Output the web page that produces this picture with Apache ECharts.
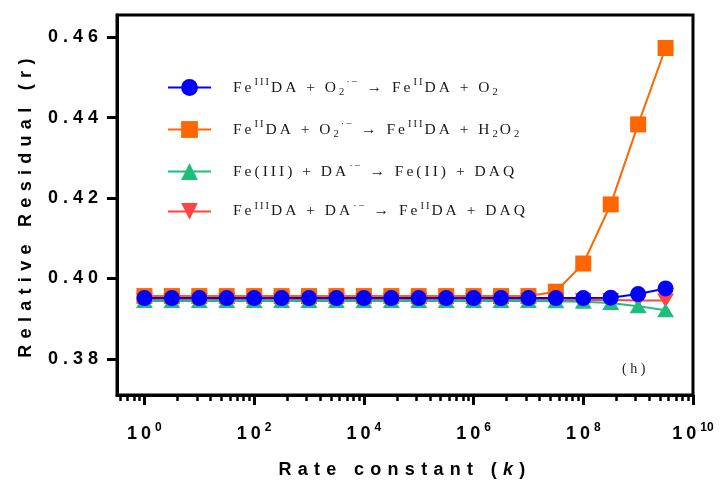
<!DOCTYPE html>
<html>
<head>
<meta charset="utf-8">
<script src="https://cdn.jsdelivr.net/npm/echarts@6/dist/echarts.min.js"></script>
<style>html,body{margin:0;padding:0;background:#fff}#c{width:720px;height:491px}</style>
</head>
<body>
<div id="c"></div>
<script>
// x values are log10(k)
var logK = [0, 0.5, 1, 1.5, 2, 2.5, 3, 3.5, 4, 4.5, 5, 5.5, 6, 6.5, 7, 7.5, 8, 8.5, 9, 9.5];
var feIIIDA_O2 = [0.3951, 0.3951, 0.3951, 0.3951, 0.3951, 0.3951, 0.3951, 0.3951, 0.3951, 0.3951, 0.3951, 0.3951, 0.3951, 0.3951, 0.3951, 0.3951, 0.3951, 0.3952, 0.3961, 0.3975];
var feIIDA_O2 = [0.3956, 0.3956, 0.3956, 0.3956, 0.3956, 0.3956, 0.3956, 0.3956, 0.3956, 0.3956, 0.3956, 0.3956, 0.3956, 0.3956, 0.3956, 0.3967, 0.4037, 0.4184, 0.4383, 0.4573];
var feIII_DA = [0.3944, 0.3944, 0.3944, 0.3944, 0.3944, 0.3944, 0.3944, 0.3944, 0.3944, 0.3944, 0.3944, 0.3944, 0.3944, 0.3944, 0.3944, 0.3943, 0.3942, 0.3939, 0.3931, 0.3921];
var feIIIDA_DA = [0.3946, 0.3946, 0.3946, 0.3946, 0.3946, 0.3946, 0.3946, 0.3946, 0.3946, 0.3946, 0.3946, 0.3946, 0.3946, 0.3946, 0.3946, 0.3946, 0.3946, 0.3946, 0.3945, 0.3945];
var xMajorTicks = [0, 2, 4, 6, 8, 10];
var yTicks = [0.38, 0.40, 0.42, 0.44, 0.46];
var seriesNames = ['FeIIIDA + O2 → FeIIDA + O2', 'FeIIDA + O2 → FeIIIDA + H2O2', 'Fe(III) + DA → Fe(II) + DAQ', 'FeIIIDA + DA → FeIIDA + DAQ'];

function sp(str, cls) {
  return str.split('').map(function (ch) { return '{' + cls + '|' + ch + '}'; }).join('');
}
var legendText = {};
legendText[seriesNames[0]] = '{g|}' + sp('Fe', 't') + sp('III', 'sup') + sp('DA + O', 't') + sp('2', 'sub') + sp('·−', 'sup') + sp(' → Fe', 't') + sp('II', 'sup') + sp('DA + O', 't') + sp('2', 'sub');
legendText[seriesNames[1]] = '{g|}' + sp('Fe', 't') + sp('II', 'sup') + sp('DA + O', 't') + sp('2', 'sub') + sp('·−', 'sup') + sp(' → Fe', 't') + sp('III', 'sup') + sp('DA + H', 't') + sp('2', 'sub') + sp('O', 't') + sp('2', 'sub');
legendText[seriesNames[2]] = '{g|}' + sp('Fe(III) + DA', 't') + sp('·−', 'sup') + sp(' → Fe(II) + DAQ', 't');
legendText[seriesNames[3]] = '{g|}' + sp('Fe', 't') + sp('III', 'sup') + sp('DA + DA', 't') + sp('·−', 'sup') + sp(' → Fe', 't') + sp('II', 'sup') + sp('DA + DAQ', 't');

// minor tick positions (log10 k), log-style subdivisions of each 100-fold span
var xMinorTicks = [];
for (var n = -1; n <= 4; n++) {
  for (var j = 2; j <= 9; j++) {
    var e = 2 * n + 2 * Math.log10(j);
    if (e >= -0.5 && e <= 10) xMinorTicks.push(e);
  }
}

function pairs(ys) { return logK.map(function (x, i) { return [x, ys[i]]; }); }

var colors = ['#0000FF', '#FF6600', '#1DBE7C', '#FF4444'];
var bold = { fontFamily: 'Liberation Sans, Arial, sans-serif', fontWeight: 'bold', color: '#000' };
var serif = 'Liberation Serif, Times New Roman, serif';

var chart = echarts.init(document.getElementById('c'), null, { renderer: 'canvas' });
chart.setOption({
  animation: false,
  backgroundColor: '#fff',
  grid: { left: 117, right: 27, top: 15, bottom: 96, show: true, borderColor: '#000', borderWidth: 3, backgroundColor: 'transparent' },
  legend: {
    orient: 'vertical', left: 162, top: 72, itemWidth: 43, itemHeight: 21, itemGap: 21,
    selectedMode: false, data: seriesNames,
    formatter: function (name) { return legendText[name]; },
    textStyle: {
      color: '#222',
      rich: {
        g: { width: 17, height: 21 },
        t: { fontFamily: serif, fontSize: 15.5, lineHeight: 21, padding: [0, 3, 0, 0], color: '#1a1a1a' },
        sup: { fontFamily: serif, fontSize: 10.5, lineHeight: 11, verticalAlign: 'top', padding: [0, 2, 0, 0], color: '#1a1a1a' },
        sub: { fontFamily: serif, fontSize: 10.5, lineHeight: 11, verticalAlign: 'bottom', padding: [0, 2, 0, 0], color: '#1a1a1a' }
      }
    }
  },
  xAxis: [{
    type: 'value', min: -0.5, max: 10, gridIndex: 0, position: 'bottom',
    axisLine: { show: true, onZero: false, lineStyle: { color: '#000', width: 3 } },
    axisTick: { show: true, customValues: xMajorTicks, length: 10, lineStyle: { color: '#000', width: 3 } },
    splitLine: { show: false },
    axisLabel: {
      customValues: xMajorTicks, margin: 27,
      formatter: function (v) { return sp('10', 'b') + '{e|' + Math.round(v) + '}'; },
      rich: {
        b: Object.assign({ fontSize: 18, lineHeight: 24, padding: [0, 4, 0, 0] }, bold),
        e: Object.assign({ fontSize: 12, lineHeight: 13, verticalAlign: 'top' }, bold)
      }
    },
    name: sp('Rate constant (', 'n') + '{k|k}' + sp(')', 'n'),
    nameLocation: 'middle', nameGap: 64,
    nameTextStyle: {
      rich: {
        n: Object.assign({ fontSize: 18, lineHeight: 22, padding: [0, 6.3, 0, 0] }, bold),
        k: Object.assign({ fontSize: 18, lineHeight: 22, fontStyle: 'italic', padding: [0, 6.3, 0, 0] }, bold)
      }
    }
  }, {
    type: 'value', min: -0.5, max: 10, gridIndex: 0, position: 'bottom',
    axisLine: { show: false, onZero: false },
    axisTick: { show: true, customValues: xMinorTicks, length: 6, lineStyle: { color: '#000', width: 2.5 } },
    axisLabel: { show: false },
    splitLine: { show: false }
  }],
  yAxis: {
    type: 'value', min: 0.371, max: 0.4655,
    axisLine: { show: true, onZero: false, lineStyle: { color: '#000', width: 3 } },
    axisTick: { show: true, customValues: yTicks, length: 10, lineStyle: { color: '#000', width: 3 } },
    splitLine: { show: false },
    axisLabel: {
      customValues: yTicks, margin: 14,
      formatter: function (v) { return sp(v.toFixed(2), 'y'); },
      rich: { y: Object.assign({ fontSize: 18, lineHeight: 22, padding: [0, 5, 0, 0] }, bold) }
    },
    name: sp('Relative Residual (r)', 'n'),
    nameLocation: 'middle', nameGap: 80,
    nameTextStyle: {
      rich: { n: Object.assign({ fontSize: 18, lineHeight: 22, padding: [0, 6.3, 0, 0] }, bold) }
    }
  },
  series: [
    { name: seriesNames[0], type: 'line', data: pairs(feIIIDA_O2), z: 5, symbol: 'circle', symbolSize: 16,
      lineStyle: { color: colors[0], width: 2 }, itemStyle: { color: colors[0] } },
    { name: seriesNames[1], type: 'line', data: pairs(feIIDA_O2), z: 2, symbol: 'rect', symbolSize: 16,
      lineStyle: { color: colors[1], width: 2 }, itemStyle: { color: colors[1] } },
    { name: seriesNames[2], type: 'line', data: pairs(feIII_DA), z: 4, symbol: 'triangle', symbolSize: [17, 14],
      lineStyle: { color: colors[2], width: 2 }, itemStyle: { color: colors[2] } },
    { name: seriesNames[3], type: 'line', data: pairs(feIIIDA_DA), z: 3, symbol: 'triangle', symbolRotate: 180, symbolSize: [17, 14],
      lineStyle: { color: colors[3], width: 2 }, itemStyle: { color: colors[3] } }
  ],
  graphic: [{
    type: 'text', left: 622, top: 362,
    style: { text: '( h )', fontFamily: serif, fontSize: 14, fill: '#222' }
  }]
});
</script>
</body>
</html>
